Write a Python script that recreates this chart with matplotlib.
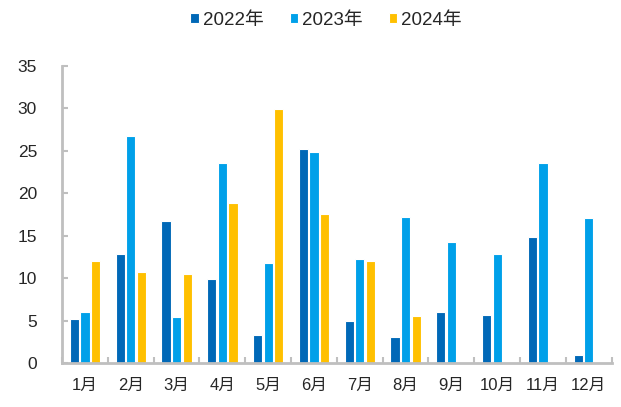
import matplotlib
matplotlib.use("Agg")
import matplotlib.pyplot as plt
import numpy as np

plt.rcParams['font.family'] = ['Liberation Sans', 'Noto Sans CJK SC', 'DejaVu Sans']

months = ["1月", "2月", "3月", "4月", "5月", "6月", "7月", "8月", "9月", "10月", "11月", "12月"]
v2022 = [5.2, 12.8, 16.7, 9.9, 3.3, 25.2, 4.9, 3.1, 6.0, 5.7, 14.8, 1.0]
v2023 = [6.0, 26.8, 5.4, 23.6, 11.8, 24.9, 12.3, 17.2, 14.3, 12.8, 23.6, 17.1]
v2024 = [12.0, 10.7, 10.5, 18.8, 29.9, 17.5, 12.0, 5.5, None, None, None, None]
series = ["2022年", "2023年", "2024年"]
colors = ["#0068B7", "#00A0E9", "#FFC000"]

fig = plt.figure(figsize=(6.21, 4.07), dpi=100)
ax = fig.add_axes([0.1, 0.108, 0.885, 0.73])

x = np.arange(len(months))
w = 0.2
step = 0.23
for i, (vals, name, c) in enumerate(zip([v2022, v2023, v2024], series, colors)):
    xs = [xi for xi, v in zip(x, vals) if v is not None]
    ys = [v for v in vals if v is not None]
    ax.bar(np.array(xs) + (i - 1) * step, ys, width=w, color=c,
           edgecolor="white", linewidth=0.8, label=name)

ax.set_xlim(-0.5, len(months) - 0.5)
ax.set_ylim(0, 35)
ax.set_yticks(range(0, 36, 5))
ax.set_xticks(x)
ax.set_xticklabels(months, fontsize=12, color="#262626")
ax.set_xticks(np.arange(-0.5, len(months), 1), minor=True)
ax.tick_params(axis="x", which="major", length=0, pad=11)
ax.tick_params(axis="x", which="minor", direction="in", length=4, color="#BFBFBF", width=1.5)
ax.tick_params(axis="y", direction="in", length=4, color="#BFBFBF", width=1.5,
               labelsize=12.5, labelcolor="#262626", pad=18)

for side in ["top", "right"]:
    ax.spines[side].set_visible(False)
for side in ["left", "bottom"]:
    ax.spines[side].set_color("#BFBFBF")
    ax.spines[side].set_linewidth(2)

fig.legend(loc="upper center", bbox_to_anchor=(0.525, 1.012), ncol=3, frameon=False,
           fontsize=13.5, handlelength=0.45, handleheight=0.45, handletextpad=0.2,
           columnspacing=1.4, labelcolor="#262626")

fig.savefig("out.png", dpi=100)
